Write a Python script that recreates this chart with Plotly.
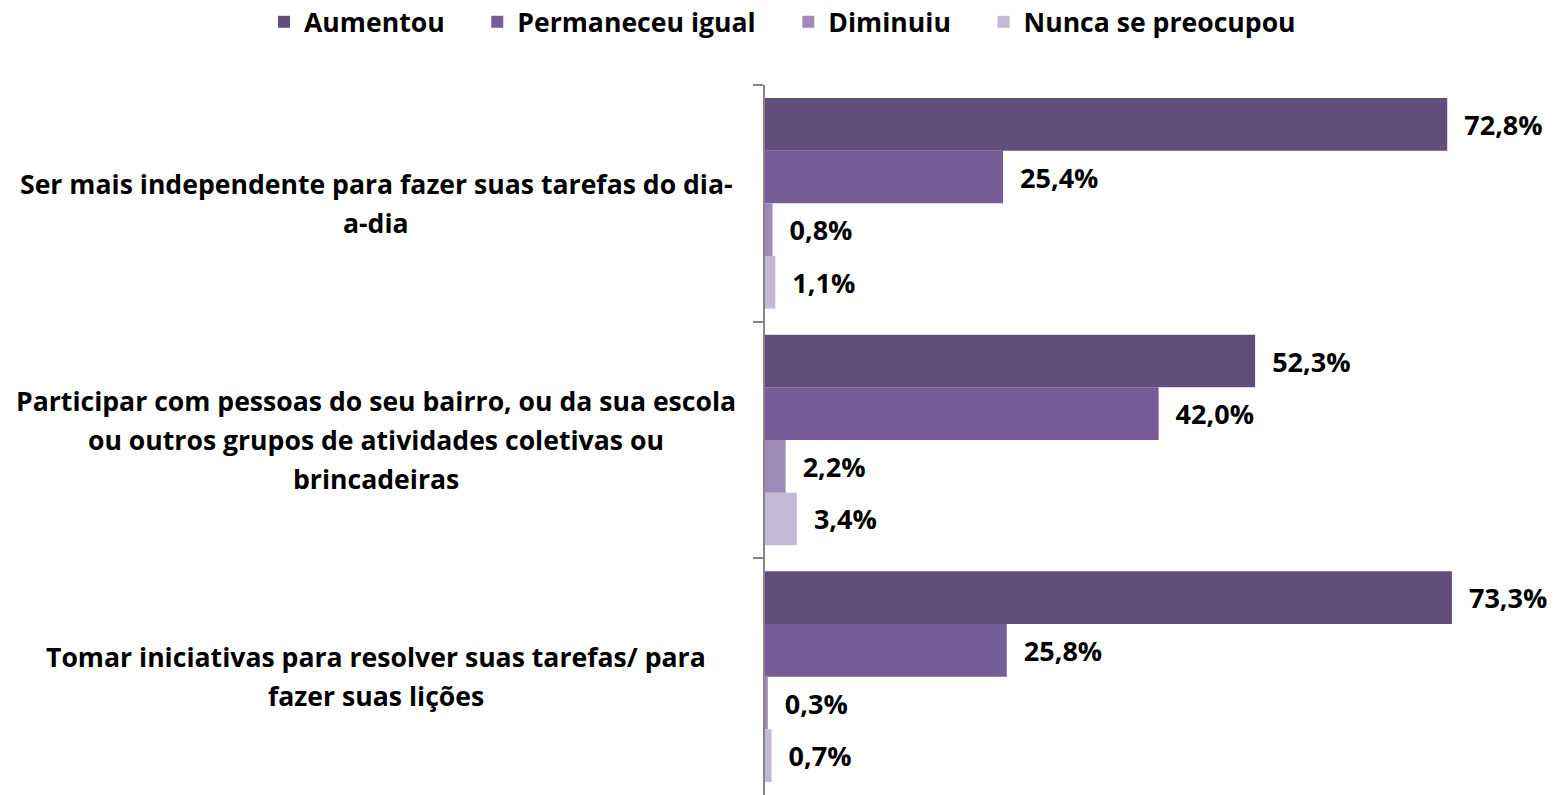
import plotly.graph_objects as go

categories = [
    "Ser mais independente para fazer suas tarefas do dia-a-dia",
    "Participar com pessoas do seu bairro, ou da sua escola ou outros grupos de atividades coletivas ou brincadeiras",
    "Tomar iniciativas para resolver suas tarefas/ para fazer suas lições",
]
category_lines = [
    ["Ser mais independente para fazer suas tarefas do dia-", "a-dia"],
    ["Participar com pessoas do seu bairro, ou da sua escola",
     "ou outros grupos de atividades coletivas ou", "brincadeiras"],
    ["Tomar iniciativas para resolver suas tarefas/ para", "fazer suas lições"],
]
series_names = ["Aumentou", "Permaneceu igual", "Diminuiu", "Nunca se preocupou"]
aumentou = [72.8, 52.3, 73.3]
permaneceu = [25.4, 42.0, 25.8]
diminuiu = [0.8, 2.2, 0.3]
nunca = [1.1, 3.4, 0.7]
series_values = [aumentou, permaneceu, diminuiu, nunca]
colors = ["#634D7C", "#775D97", "#9E89B7", "#C4B9D5"]

FONT = "Open Sans"
PAD = "\u00a0" * 4  # spacing between legend entries
fig = go.Figure()
for name, vals, col in zip(series_names, series_values, colors):
    fig.add_trace(go.Bar(
        y=categories, x=vals, name=name + PAD, orientation="h",
        marker=dict(color=col, line=dict(width=0)),
        text=["\u00a0\u00a0" + f"{v:.1f}".replace(".", ",") + "%" for v in vals],
        textposition="outside", constraintext="none", cliponaxis=False,
        textfont=dict(family=FONT, size=27, color="black", weight="bold"),
        hoverinfo="skip",
    ))

annotations = []
LINE_H = 39
for cat, lines in zip(categories, category_lines):
    n = len(lines)
    for i, ln in enumerate(lines):
        off = (i - (n - 1) / 2) * LINE_H
        annotations.append(dict(
            x=-0.4924, xref="paper", y=cat, yref="y", yshift=-off,
            text=ln, showarrow=False, xanchor="center", yanchor="middle",
            font=dict(family=FONT, size=26.6, color="black", weight="bold"),
        ))

fig.update_layout(
    width=1555, height=795,
    margin=dict(l=765, r=0, t=85, b=0, autoexpand=False),
    paper_bgcolor="white", plot_bgcolor="white",
    barmode="group", bargap=0.11, bargroupgap=0,
    showlegend=True,
    legend=dict(orientation="h", x=(264 - 765) / 790, xref="paper", xanchor="left",
                y=1 + 87 / 710, yref="paper", yanchor="top",
                font=dict(family=FONT, size=26.6, color="black", weight="bold"),
                traceorder="normal", itemclick=False, itemwidth=30,
                bgcolor="rgba(0,0,0,0)"),
    xaxis=dict(range=[0, 84.3], visible=False, fixedrange=True),
    yaxis=dict(autorange="reversed", showticklabels=False, tickson="boundaries",
               ticks="outside", ticklen=10, tickcolor="#868686", tickwidth=1.5,
               showline=True, linecolor="#868686", linewidth=1.5,
               showgrid=False, zeroline=False, fixedrange=True),
    annotations=annotations,
)
fig.write_html("out.html", config={"displayModeBar": False},
               post_script="document.body.style.margin='0';")
